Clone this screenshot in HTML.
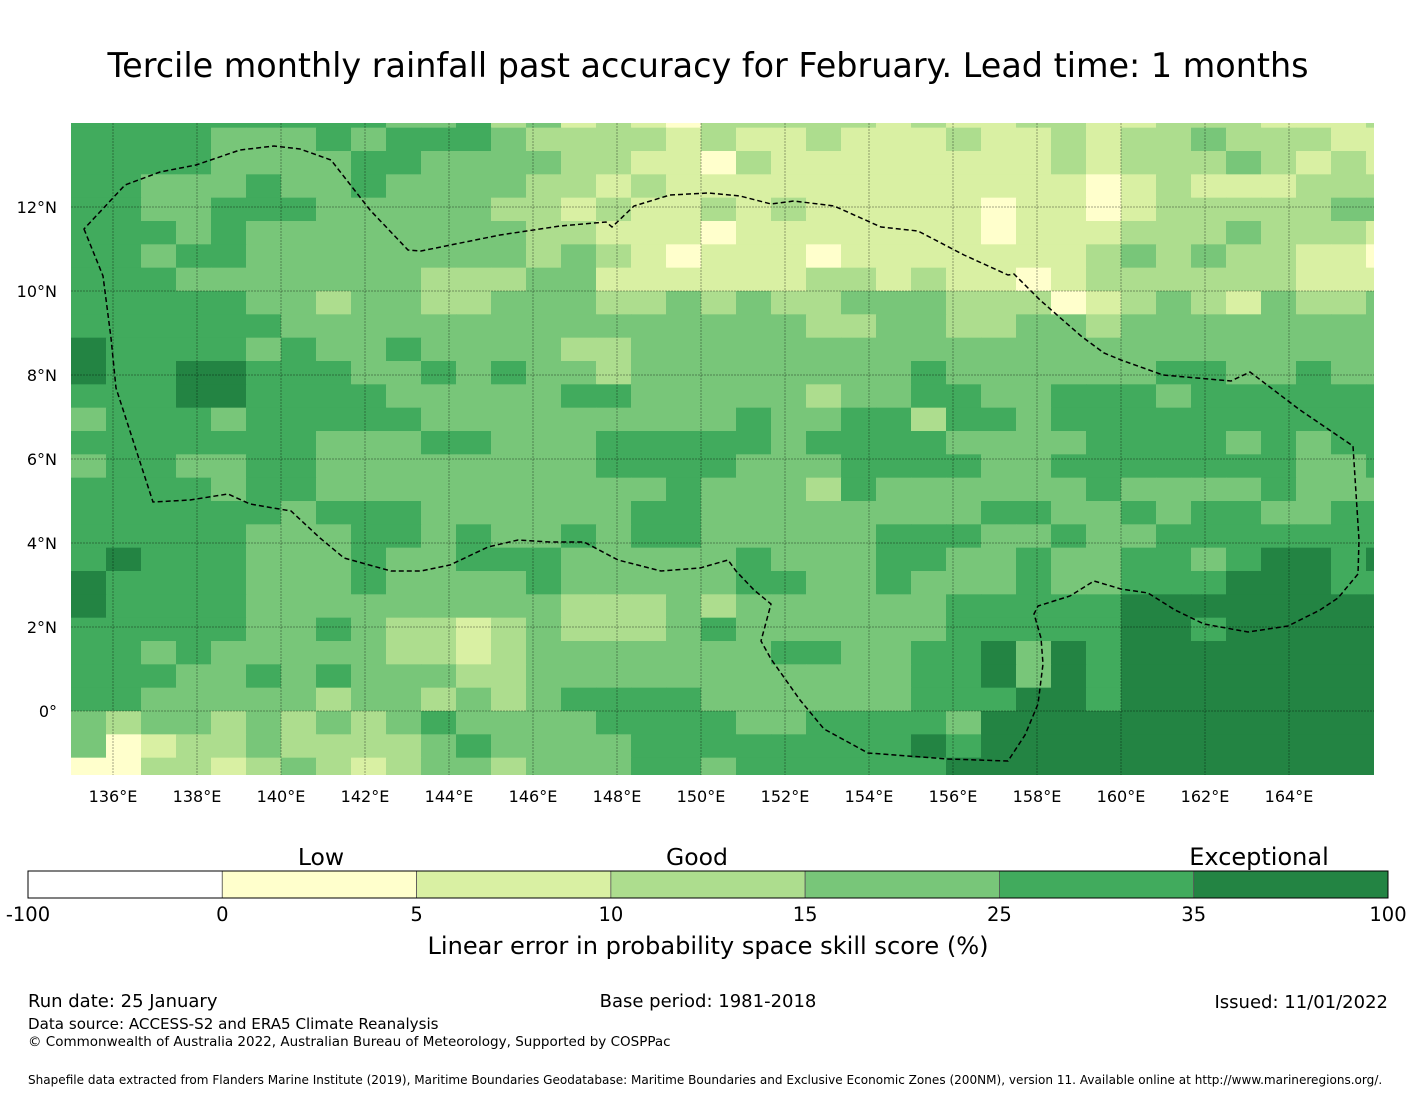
<!DOCTYPE html>
<html><head><meta charset="utf-8">
<style>
body{margin:0;background:#fff;font-family:"Liberation Sans","DejaVu Sans",sans-serif;}
#wrap{position:relative;width:1416px;height:1095px;overflow:hidden;background:#fff;}
svg text{font-family:"DejaVu Sans","Liberation Sans",sans-serif;}
</style></head>
<body>
<div id="wrap">
<svg id="chart" width="1416" height="1095" xmlns="http://www.w3.org/2000/svg">
<text x="708" y="77" font-size="33.4" text-anchor="middle" fill="#000">Tercile monthly rainfall past accuracy for February. Lead time: 1 months</text>
<defs><clipPath id="mapclip"><rect x="71" y="123" width="1303" height="652"/></clipPath></defs>
<g id="cells" clip-path="url(#mapclip)"></g>
<g id="grid" clip-path="url(#mapclip)"></g>
<path clip-path="url(#mapclip)" d="M84,229 L103,276 L111,338 L116,388 L153,502 L190,500 L228,494 L250,504 L291,511 L320,538 L344,558 L391,571 L421,571 L450,565 L488,547 L518,540 L550,542 L584,542 L618,560 L661,571 L700,568 L728,560 L736,571 L754,590 L771,604 L761,641 L771,659 L800,700 L824,729 L868,753 L948,759 L1008,761 L1025,735 L1038,704 L1043,664 L1041,638 L1034,614 L1038,606 L1070,596 L1094,581 L1121,589 L1148,593 L1175,610 L1204,624 L1248,632 L1288,626 L1320,610 L1338,598 L1358,574 L1359,540 L1353,446 L1300,410 L1250,372 L1231,381 L1163,375 L1121,360 L1104,353 L1081,336 L1040,300 L1014,274 L1008,275 L964,255 L918,231 L881,227 L834,206 L794,201 L771,204 L740,196 L708,193 L670,195 L634,206 L612,227 L606,222 L560,226 L500,235 L421,251 L408,250 L370,210 L331,160 L300,149 L274,146 L240,150 L196,165 L160,172 L125,185 Z" fill="none" stroke="#000" stroke-width="1.5" stroke-dasharray="5,3"/>
<g id="xlabels"></g>
<g id="ylabels"></g>
<g id="cbar"></g>
<text x="321" y="865" font-size="23.5" text-anchor="middle">Low</text>
<text x="697" y="865" font-size="23.5" text-anchor="middle">Good</text>
<text x="1259" y="865" font-size="24" text-anchor="middle">Exceptional</text>
<text x="708" y="954" font-size="24.1" text-anchor="middle">Linear error in probability space skill score (%)</text>
<text x="28" y="1007" font-size="18">Run date: 25 January</text>
<text x="708" y="1007" font-size="18" text-anchor="middle">Base period: 1981-2018</text>
<text x="1388" y="1008" font-size="18" text-anchor="end">Issued: 11/01/2022</text>
<text x="28" y="1029" font-size="15.1">Data source: ACCESS-S2 and ERA5 Climate Reanalysis</text>
<text x="28" y="1046" font-size="13.5">© Commonwealth of Australia 2022, Australian Bureau of Meteorology, Supported by COSPPac</text>
<text x="28" y="1084" font-size="12.05">Shapefile data extracted from Flanders Marine Institute (2019), Maritime Boundaries Geodatabase: Maritime Boundaries and Exclusive Economic Zones (200NM), version 11. Available online at http://www.marineregions.org/.</text>
</svg>
</div>
<script>
const binLabels = ["-100","0","5","10","15","25","35","100"];
const binColors = ["#ffffff","#ffffcc","#d9f0a3","#addd8e","#78c679","#41ab5d","#238443"];
const lonTicks = [136,138,140,142,144,146,148,150,152,154,156,158,160,162,164];
const latTicks = [0,2,4,6,8,10,12];
const skillRows = [
"55555555544534232133333232233223332223",
"55554445455543333232232223223233433322",
"55554444554444332213222222223233343232",
"55444544544443323222222222222123222333",
"55445554444433232232322222122123333344",
"55545444444443322212222222122233343332",
"55455444444443432122212222222343433221",
"55544444443334422222233232212333333222",
"55555443443344433434334443331234324334",
"55555544444444444444433443344344444444",
"65555454454444334444444444444444444444",
"65566555445454434444444454444445544544",
"55566555544444554444434455445554555555",
"45554555554444444445445535545555555555",
"55555554445544455555455554444555545455",
"45544554444444455554445555445555555445",
"55554554444444444544435444444544445444",
"55555545554444445544444444554454554455",
"55555444554544545544444555445445555555",
"56555444544555444445444554454455456656",
"65555444544445444445544544454455566655",
"65555444444444333434444445555566666666",
"55555445433234333454444445555566566666",
"55454444433234444444554455646566666666",
"55544545444334444444444455646566666666",
"55444443443434555544444455566566666666",
"43443434345444455554455554666666666666",
"41233433334544445555555565666666666666",
"11332343234434445545555556666666666666"];
const NS="http://www.w3.org/2000/svg";
const xOfLon = lon => 113 + (lon - 136) * 42;
const yOfLat = lat => 711 - lat * 42;
const lonStart = 135, dLon = 0.8333333, latTop = 14.444444, dLat = 0.5555556;
const cells = document.getElementById('cells');
skillRows.forEach((row, r) => {
  for (let c = 0; c < row.length; c++) {
    const v = +row[c];
    const x0 = xOfLon(lonStart + c * dLon), x1 = xOfLon(lonStart + (c + 1) * dLon);
    const y0 = yOfLat(latTop - r * dLat), y1 = yOfLat(latTop - (r + 1) * dLat);
    const rect = document.createElementNS(NS, 'rect');
    
    
    rect.setAttribute('x', x0); rect.setAttribute('y', y0);
    rect.setAttribute('width', x1 - x0 + 0.6); rect.setAttribute('height', y1 - y0 + 0.6);
    rect.setAttribute('fill', binColors[v]);
    cells.appendChild(rect);
  }
});
const grid = document.getElementById('grid');
const xl = document.getElementById('xlabels');
lonTicks.forEach(lon => {
  const x = xOfLon(lon);
  const l = document.createElementNS(NS, 'line');
  
  
  l.setAttribute('x1', x); l.setAttribute('x2', x); l.setAttribute('y1', 123); l.setAttribute('y2', 775);
  l.setAttribute('stroke', 'rgba(0,0,0,0.35)'); l.setAttribute('stroke-width', '1'); l.setAttribute('stroke-dasharray', '2,1');
  grid.appendChild(l);
  const t = document.createElementNS(NS, 'text');
  
  
  t.setAttribute('x', x); t.setAttribute('y', 802); t.setAttribute('font-size', '16'); t.setAttribute('text-anchor', 'middle');
  t.textContent = lon + '°E';
  xl.appendChild(t);
});
const yl = document.getElementById('ylabels');
latTicks.forEach(lat => {
  const y = yOfLat(lat);
  const l = document.createElementNS(NS, 'line');
  
  
  l.setAttribute('x1', 71); l.setAttribute('x2', 1374); l.setAttribute('y1', y); l.setAttribute('y2', y);
  l.setAttribute('stroke', 'rgba(0,0,0,0.35)'); l.setAttribute('stroke-width', '1'); l.setAttribute('stroke-dasharray', '2,1');
  grid.appendChild(l);
  const t = document.createElementNS(NS, 'text');
  
  
  t.setAttribute('x', 57); t.setAttribute('y', y + 6); t.setAttribute('font-size', '16'); t.setAttribute('text-anchor', 'end');
  t.textContent = lat === 0 ? '0°' : lat + '°N';
  yl.appendChild(t);
});
const cb = document.getElementById('cbar');
const cbX = 28, cbW = 1360, cbY = 871, cbH = 27, segW = cbW / binColors.length;
binColors.forEach((col, i) => {
  const r = document.createElementNS(NS, 'rect');
  
  
  r.setAttribute('x', cbX + i * segW); r.setAttribute('y', cbY); r.setAttribute('width', segW); r.setAttribute('height', cbH);
  r.setAttribute('fill', col); r.setAttribute('stroke', '#555'); r.setAttribute('stroke-width', '0.8');
  cb.appendChild(r);
});
const border = document.createElementNS(NS, 'rect');


border.setAttribute('x', cbX); border.setAttribute('y', cbY); border.setAttribute('width', cbW); border.setAttribute('height', cbH);
border.setAttribute('fill', 'none'); border.setAttribute('stroke', '#000'); border.setAttribute('stroke-width', '1');
cb.appendChild(border);
binLabels.forEach((lab, i) => {
  const t = document.createElementNS(NS, 'text');
  
  
  t.setAttribute('x', cbX + i * segW); t.setAttribute('y', 921); t.setAttribute('font-size', '19.5'); t.setAttribute('text-anchor', 'middle');
  t.textContent = lab;
  cb.appendChild(t);
});
</script>
</body></html>
